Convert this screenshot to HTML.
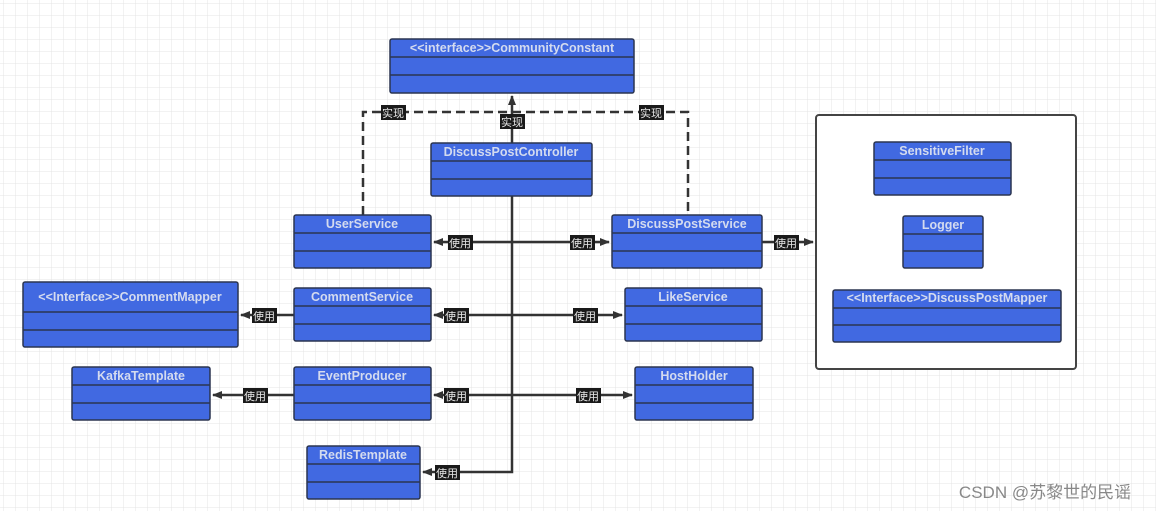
<!DOCTYPE html>
<html><head><meta charset="utf-8"><style>
body{margin:0;width:1156px;height:511px;overflow:hidden;background:#fff;}
svg{display:block}
.t{font-family:"Liberation Sans","Noto Sans CJK SC",sans-serif;font-weight:bold;font-size:12.5px;fill:#d4dbef;text-anchor:middle}
.l{font-family:"Liberation Sans","Noto Sans CJK SC",sans-serif;font-size:11px;fill:#e8e8e8;text-anchor:middle}
</style></head><body>
<svg width="1156" height="511" xmlns="http://www.w3.org/2000/svg">
<defs>
<pattern id="g" width="12" height="12" patternUnits="userSpaceOnUse" x="4" y="4">
<path d="M12 0V12H0" fill="none" stroke="#e4e4e4" stroke-width="1"/></pattern>
<marker id="a" markerWidth="10" markerHeight="8" refX="9" refY="4" orient="auto" markerUnits="userSpaceOnUse"><path d="M0 0L10 4L0 8z" fill="#333"/></marker>
</defs>
<rect width="1156" height="511" fill="url(#g)"/>
<rect x="816" y="115" width="260" height="254" rx="3" fill="#fff" stroke="#444" stroke-width="2"/>
<g stroke="#333" stroke-width="2.5" fill="none">
<path d="M363 215V112H688V215" stroke-dasharray="9,5"/>
<path d="M512 143V96" marker-end="url(#a)"/>
<path d="M512 196V472H423" marker-end="url(#a)"/>
<path d="M512 242H434" marker-end="url(#a)"/>
<path d="M512 242H609" marker-end="url(#a)"/>
<path d="M762 242H813" marker-end="url(#a)"/>
<path d="M512 315H434" marker-end="url(#a)"/>
<path d="M512 315H622" marker-end="url(#a)"/>
<path d="M294 315H241" marker-end="url(#a)"/>
<path d="M512 395H434" marker-end="url(#a)"/>
<path d="M512 395H632" marker-end="url(#a)"/>
<path d="M294 395H213" marker-end="url(#a)"/>
</g>
<g id="boxes" stroke="#2b3550" stroke-width="1.5">
<g fill="#4169e1">
<rect x="390" y="39" width="244" height="54" rx="2"/>
<rect x="431" y="143" width="161" height="53" rx="2"/>
<rect x="294" y="215" width="137" height="53" rx="2"/>
<rect x="612" y="215" width="150" height="53" rx="2"/>
<rect x="23" y="282" width="215" height="65" rx="2"/>
<rect x="294" y="288" width="137" height="53" rx="2"/>
<rect x="625" y="288" width="137" height="53" rx="2"/>
<rect x="72" y="367" width="138" height="53" rx="2"/>
<rect x="294" y="367" width="137" height="53" rx="2"/>
<rect x="635" y="367" width="118" height="53" rx="2"/>
<rect x="307" y="446" width="113" height="53" rx="2"/>
<rect x="874" y="142" width="137" height="53" rx="2"/>
<rect x="903" y="216" width="80" height="52" rx="2"/>
<rect x="833" y="290" width="228" height="52" rx="2"/>
</g>
<path d="M390 57H634M390 75H634M431 161H592M431 179H592M294 233H431M294 251H431M612 233H762M612 251H762M23 312H238M23 330H238M294 306H431M294 324H431M625 306H762M625 324H762M72 385H210M72 403H210M294 385H431M294 403H431M635 385H753M635 403H753M307 464H420M307 482H420M874 160H1011M874 178H1011M903 234H983M903 251H983M833 308H1061M833 325H1061" fill="none"/>
</g>
<text class="t" x="512" y="52">&lt;&lt;interface&gt;&gt;CommunityConstant</text>
<text class="t" x="511" y="156">DiscussPostController</text>
<text class="t" x="362" y="228">UserService</text>
<text class="t" x="687" y="228">DiscussPostService</text>
<text class="t" x="130" y="301">&lt;&lt;Interface&gt;&gt;CommentMapper</text>
<text class="t" x="362" y="301">CommentService</text>
<text class="t" x="693" y="301">LikeService</text>
<text class="t" x="141" y="380">KafkaTemplate</text>
<text class="t" x="362" y="380">EventProducer</text>
<text class="t" x="694" y="380">HostHolder</text>
<text class="t" x="363" y="459">RedisTemplate</text>
<text class="t" x="942" y="155">SensitiveFilter</text>
<text class="t" x="943" y="229">Logger</text>
<text class="t" x="947" y="302">&lt;&lt;Interface&gt;&gt;DiscussPostMapper</text>
<g fill="#1a1a1a">
<rect x="381" y="105" width="25" height="15"/><rect x="500" y="114" width="25" height="15"/><rect x="639" y="105" width="25" height="15"/>
<rect x="448" y="235" width="25" height="15"/><rect x="570" y="235" width="25" height="15"/><rect x="774" y="235" width="25" height="15"/>
<rect x="252" y="308" width="25" height="15"/><rect x="444" y="308" width="25" height="15"/><rect x="573" y="308" width="25" height="15"/>
<rect x="243" y="388" width="25" height="15"/><rect x="444" y="388" width="25" height="15"/><rect x="576" y="388" width="25" height="15"/>
<rect x="435" y="465" width="25" height="15"/>
</g>
<g class="l">
<text x="393" y="117">实现</text><text x="512" y="126">实现</text><text x="651" y="117">实现</text>
<text x="460" y="247">使用</text><text x="582" y="247">使用</text><text x="786" y="247">使用</text>
<text x="264" y="320">使用</text><text x="456" y="320">使用</text><text x="585" y="320">使用</text>
<text x="255" y="400">使用</text><text x="456" y="400">使用</text><text x="588" y="400">使用</text>
<text x="447" y="477">使用</text>
</g>
<text x="1045" y="498" font-family="Liberation Sans,Noto Sans CJK SC,sans-serif" font-size="17" fill="#888" text-anchor="middle">CSDN @苏黎世的民谣</text>
</svg>
</body></html>
